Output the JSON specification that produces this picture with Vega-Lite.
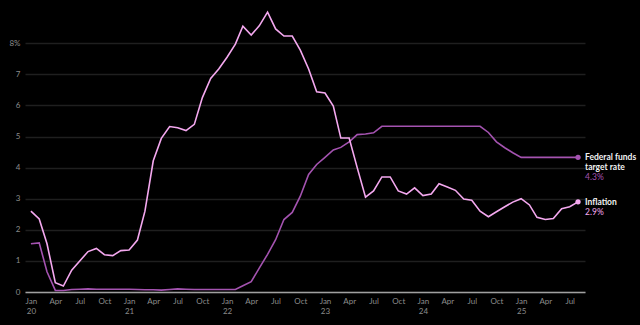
{
  "$schema": "https://vega.github.io/schema/vega-lite/v6.json",
  "width": 560,
  "height": 292,
  "autosize": "none",
  "padding": {"left": 25, "top": 0, "right": 55, "bottom": 33},
  "background": "#000000",
  "config": {
    "view": {"stroke": null},
    "font": "Lato",
    "axis": {"labelFont": "Lato", "labelColor": "#8c8c8c", "labelFontSize": 8, "ticks": false, "titleColor": "#8c8c8c"}
  },
  "datasets": {
    "d": [
      {"date": "2020-01-01", "fed": 1.55, "inf": 2.6},
      {"date": "2020-02-01", "fed": 1.58, "inf": 2.35},
      {"date": "2020-03-01", "fed": 0.65, "inf": 1.55},
      {"date": "2020-04-01", "fed": 0.05, "inf": 0.3},
      {"date": "2020-05-01", "fed": 0.05, "inf": 0.19},
      {"date": "2020-06-01", "fed": 0.08, "inf": 0.7},
      {"date": "2020-07-01", "fed": 0.09, "inf": 1.0},
      {"date": "2020-08-01", "fed": 0.1, "inf": 1.3},
      {"date": "2020-09-01", "fed": 0.09, "inf": 1.4},
      {"date": "2020-10-01", "fed": 0.09, "inf": 1.2},
      {"date": "2020-11-01", "fed": 0.09, "inf": 1.17},
      {"date": "2020-12-01", "fed": 0.09, "inf": 1.33},
      {"date": "2021-01-01", "fed": 0.09, "inf": 1.35},
      {"date": "2021-02-01", "fed": 0.08, "inf": 1.67},
      {"date": "2021-03-01", "fed": 0.07, "inf": 2.6},
      {"date": "2021-04-01", "fed": 0.07, "inf": 4.22},
      {"date": "2021-05-01", "fed": 0.06, "inf": 4.94},
      {"date": "2021-06-01", "fed": 0.08, "inf": 5.32},
      {"date": "2021-07-01", "fed": 0.1, "inf": 5.28},
      {"date": "2021-08-01", "fed": 0.09, "inf": 5.19},
      {"date": "2021-09-01", "fed": 0.08, "inf": 5.39},
      {"date": "2021-10-01", "fed": 0.08, "inf": 6.25},
      {"date": "2021-11-01", "fed": 0.08, "inf": 6.87},
      {"date": "2021-12-01", "fed": 0.08, "inf": 7.17},
      {"date": "2022-01-01", "fed": 0.08, "inf": 7.55},
      {"date": "2022-02-01", "fed": 0.08, "inf": 7.97},
      {"date": "2022-03-01", "fed": 0.2, "inf": 8.55},
      {"date": "2022-04-01", "fed": 0.33, "inf": 8.26},
      {"date": "2022-05-01", "fed": 0.77, "inf": 8.56},
      {"date": "2022-06-01", "fed": 1.21, "inf": 9.0},
      {"date": "2022-07-01", "fed": 1.68, "inf": 8.46},
      {"date": "2022-08-01", "fed": 2.33, "inf": 8.23},
      {"date": "2022-09-01", "fed": 2.56, "inf": 8.23},
      {"date": "2022-10-01", "fed": 3.08, "inf": 7.78},
      {"date": "2022-11-01", "fed": 3.78, "inf": 7.17},
      {"date": "2022-12-01", "fed": 4.1, "inf": 6.44},
      {"date": "2023-01-01", "fed": 4.33, "inf": 6.4},
      {"date": "2023-02-01", "fed": 4.57, "inf": 5.98},
      {"date": "2023-03-01", "fed": 4.65, "inf": 4.95},
      {"date": "2023-04-01", "fed": 4.83, "inf": 4.95},
      {"date": "2023-05-01", "fed": 5.06, "inf": 4.0},
      {"date": "2023-06-01", "fed": 5.08, "inf": 3.05},
      {"date": "2023-07-01", "fed": 5.12, "inf": 3.25},
      {"date": "2023-08-01", "fed": 5.33, "inf": 3.7},
      {"date": "2023-09-01", "fed": 5.33, "inf": 3.7},
      {"date": "2023-10-01", "fed": 5.33, "inf": 3.25},
      {"date": "2023-11-01", "fed": 5.33, "inf": 3.15},
      {"date": "2023-12-01", "fed": 5.33, "inf": 3.35},
      {"date": "2024-01-01", "fed": 5.33, "inf": 3.1},
      {"date": "2024-02-01", "fed": 5.33, "inf": 3.15},
      {"date": "2024-03-01", "fed": 5.33, "inf": 3.48},
      {"date": "2024-04-01", "fed": 5.33, "inf": 3.38},
      {"date": "2024-05-01", "fed": 5.33, "inf": 3.27},
      {"date": "2024-06-01", "fed": 5.33, "inf": 2.99},
      {"date": "2024-07-01", "fed": 5.33, "inf": 2.95},
      {"date": "2024-08-01", "fed": 5.33, "inf": 2.6},
      {"date": "2024-09-01", "fed": 5.13, "inf": 2.42},
      {"date": "2024-10-01", "fed": 4.83, "inf": 2.58},
      {"date": "2024-11-01", "fed": 4.64, "inf": 2.74},
      {"date": "2024-12-01", "fed": 4.48, "inf": 2.89},
      {"date": "2025-01-01", "fed": 4.33, "inf": 3.0},
      {"date": "2025-02-01", "fed": 4.33, "inf": 2.8},
      {"date": "2025-03-01", "fed": 4.33, "inf": 2.4},
      {"date": "2025-04-01", "fed": 4.33, "inf": 2.33},
      {"date": "2025-05-01", "fed": 4.33, "inf": 2.36},
      {"date": "2025-06-01", "fed": 4.33, "inf": 2.68},
      {"date": "2025-07-01", "fed": 4.33, "inf": 2.74},
      {"date": "2025-08-01", "fed": 4.33, "inf": 2.9}
    ]
  },
  "data": {"name": "d"},
  "transform": [
    {"fold": ["fed", "inf"], "as": ["series", "value"]}
  ],
  "encoding": {
    "x": {
      "field": "date", "type": "temporal",
      "scale": {"type": "utc", "domain": ["2019-12-10", "2025-08-27"]},
      "axis": {
        "title": null,
        "grid": false,
        "domain": true,
        "domainColor": "#a0a0a0",
        "domainWidth": 1.5,
        "tickCount": {"interval": "month", "step": 3},
        "labelPadding": 5,
        "labelLineHeight": 10,
        "labelBaseline": "top",
        "labelExpr": "utcmonth(datum.value) == 0 ? [utcFormat(datum.value, '%b'), utcFormat(datum.value, '%y')] : utcFormat(datum.value, '%b')"
      }
    },
    "y": {
      "field": "value", "type": "quantitative",
      "scale": {"domain": [0, 9.39], "nice": false},
      "axis": {
        "title": null,
        "values": [0, 1, 2, 3, 4, 5, 6, 7, 8],
        "domain": false,
        "gridColor": "#1f1f1f",
        "gridWidth": 1.5,
        "labelPadding": 5,
        "labelExpr": "datum.value == 8 ? '8%' : datum.label"
      }
    },
    "color": {
      "field": "series", "type": "nominal",
      "scale": {"domain": ["fed", "inf"], "range": ["#a453b0", "#f4a8ef"]},
      "legend": null
    }
  },
  "layer": [
    {"mark": {"type": "line", "strokeWidth": 1.6, "clip": false}},
    {
      "transform": [{"filter": "year(datum.date) == 2025 && month(datum.date) == 7"}],
      "mark": {"type": "point", "filled": true, "opacity": 1, "size": 28}
    },
    {
      "transform": [
        {"filter": "year(datum.date) == 2025 && month(datum.date) == 7"},
        {"calculate": "datum.series == 'fed' ? ['Federal funds', 'target rate'] : ['Inflation']", "as": "name"}
      ],
      "mark": {"type": "text", "align": "left", "baseline": "middle", "dx": 7, "fontWeight": "bold", "fontSize": 8.5, "lineHeight": 10, "color": "#f2f2f2"},
      "encoding": {"text": {"field": "name"}, "color": {"value": "#f2f2f2"}}
    },
    {
      "transform": [
        {"filter": "year(datum.date) == 2025 && month(datum.date) == 7 && datum.series == 'fed'"},
        {"calculate": "format(datum.value, '.1f') + '%'", "as": "vlab"}
      ],
      "mark": {"type": "text", "align": "left", "baseline": "middle", "dx": 7, "dy": 20, "fontSize": 8.5},
      "encoding": {"text": {"field": "vlab"}}
    },
    {
      "transform": [
        {"filter": "year(datum.date) == 2025 && month(datum.date) == 7 && datum.series == 'inf'"},
        {"calculate": "format(datum.value, '.1f') + '%'", "as": "vlab"}
      ],
      "mark": {"type": "text", "align": "left", "baseline": "middle", "dx": 7, "dy": 10, "fontSize": 8.5},
      "encoding": {"text": {"field": "vlab"}}
    }
  ]
}
